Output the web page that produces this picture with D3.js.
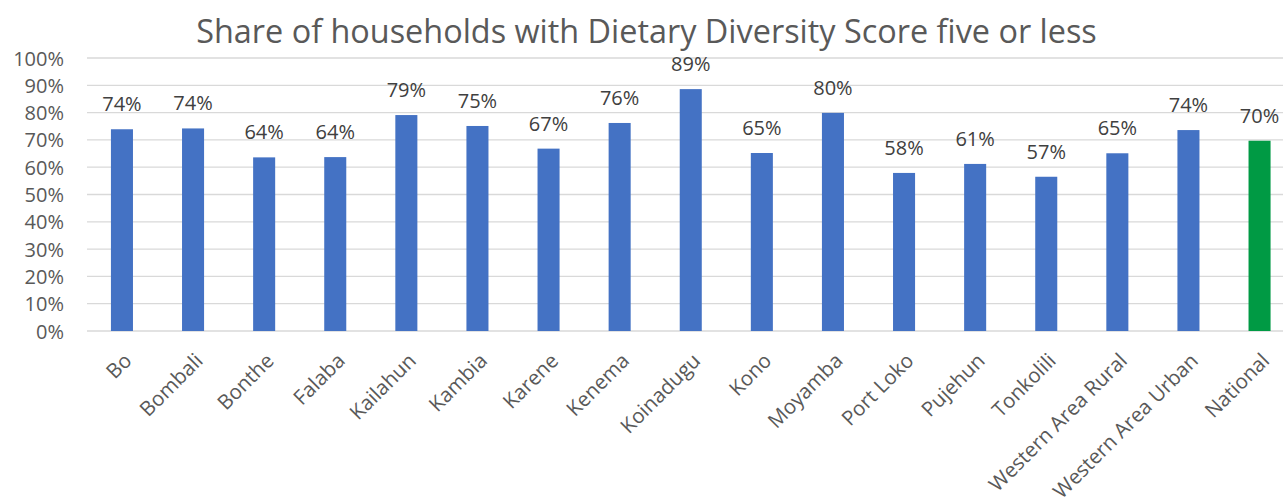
<!DOCTYPE html>
<html><head><meta charset="utf-8">
<script src="https://cdn.jsdelivr.net/npm/d3@7"></script>
<style>body{margin:0;background:#fff;overflow:hidden}svg{display:block}</style>
</head><body>
<svg id="c" width="1283" height="501"></svg>
<script>
const categories = ["Bo","Bombali","Bonthe","Falaba","Kailahun","Kambia","Karene","Kenema","Koinadugu","Kono","Moyamba","Port Loko","Pujehun","Tonkolili","Western Area Rural","Western Area Urban","National"];
const values = [0.739,0.742,0.636,0.637,0.791,0.751,0.668,0.762,0.886,0.652,0.799,0.579,0.612,0.565,0.651,0.736,0.697];
const labels = ["74%","74%","64%","64%","79%","75%","67%","76%","89%","65%","80%","58%","61%","57%","65%","74%","70%"];
const yTicks = [0,0.1,0.2,0.3,0.4,0.5,0.6,0.7,0.8,0.9,1.0];
const title = "Share of households with Dietary Diversity Score five or less";

const svg = d3.select("#c");
const font = "'Open Sans', 'Liberation Sans', Arial, sans-serif";
const x0 = 86.4, step = 71.1;
const x = d3.scaleBand().domain(categories).range([x0, x0 + step*categories.length]).paddingInner(0.69).paddingOuter(0.345);
const y = d3.scaleLinear().domain([0,1]).range([331,58]);

// gridlines
svg.append("g").selectAll("line").data(yTicks).join("line")
  .attr("x1", 87).attr("x2", 1283)
  .attr("y1", d=>y(d)).attr("y2", d=>y(d))
  .attr("stroke", "#d9d9d9").attr("stroke-width", 1.3);

// y axis labels
const yAxis = d3.axisLeft(y).tickValues(yTicks).tickFormat(d3.format(".0%")).tickSize(0).tickPadding(0);
const ya = svg.append("g").attr("transform","translate(64,0)").call(yAxis);
ya.select(".domain").remove();
ya.selectAll("text").attr("font-family", font).attr("font-size", 20).attr("fill", "#595959").attr("dy","0.35em");

// bars
svg.append("g").selectAll("rect").data(categories).join("rect")
  .attr("x", d=>x(d)).attr("width", x.bandwidth())
  .attr("y", (d,i)=>y(values[i])).attr("height", (d,i)=>y(0)-y(values[i]))
  .attr("fill", d=> d==="National" ? "#009a44" : "#4472c4");

// value labels
svg.append("g").selectAll("text").data(categories).join("text")
  .attr("x", d=>x(d)+x.bandwidth()/2)
  .attr("y", (d,i)=>y(values[i]) - 18)
  .attr("text-anchor","middle")
  .attr("font-family", font).attr("font-size", 20).attr("fill", "#404040")
  .text((d,i)=>labels[i]);

// x labels
const xa = svg.append("g").attr("transform", "translate(0,331)")
  .call(d3.axisBottom(x).tickSize(0).tickPadding(0));
xa.select(".domain").remove();
xa.selectAll("text")
  .attr("font-family", font).attr("font-size", 20.5).attr("fill", "#595959")
  .attr("text-anchor","end").attr("dy", null).attr("y", 0)
  .attr("transform","translate(11,31) rotate(-45)");

// title
const t = svg.append("text").attr("x", 646.5).attr("y", 43).attr("text-anchor","middle")
  .attr("font-family", font).attr("font-size", 30).attr("fill", "#595959").text(title);
const w = t.node().getComputedTextLength();
t.attr("font-size", 30*901/w);
</script>
</body></html>
